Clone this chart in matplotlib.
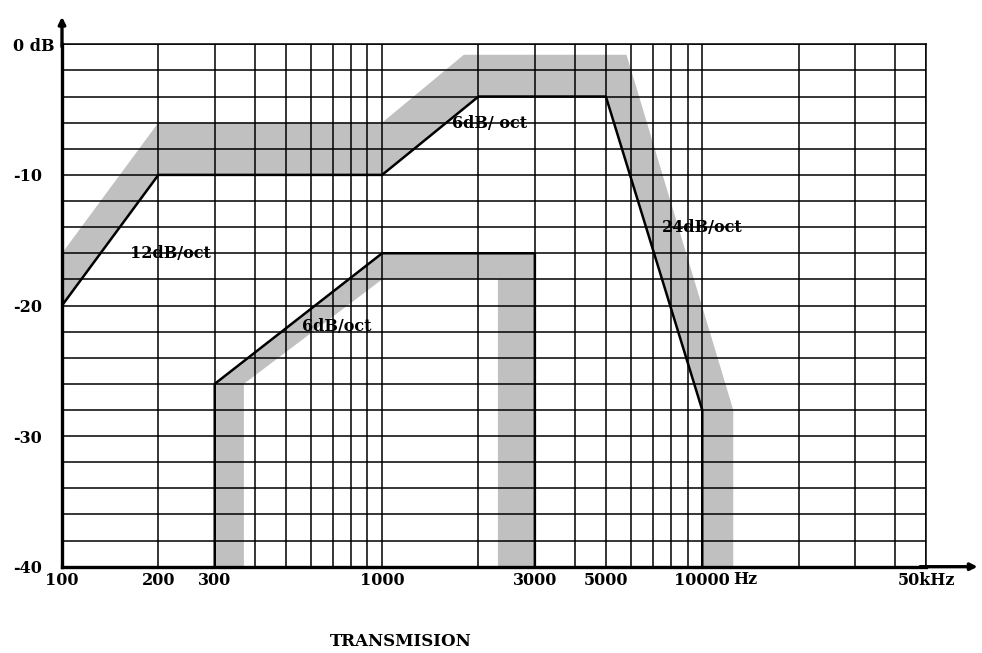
import matplotlib
matplotlib.use("Agg")
import matplotlib.pyplot as plt
import numpy as np

# upper response curve (black line) and its grey tolerance band edge
up_freq = [100, 200, 1000, 2000, 5000, 10000, 10000]
up_db = [-20, -10, -10, -4, -4, -28, -40]
up_band_freq = [12500, 12500, 5800, 1800, 1000, 200, 100]
up_band_db = [-40, -28, -0.8, -0.8, -6, -6, -16]

# lower response curve and its grey band edge
lo_freq = [300, 300, 1000, 3000, 3000]
lo_db = [-40, -26, -16, -16, -40]
lo_band_freq = [2300, 2300, 1000, 370, 370]
lo_band_db = [-40, -18, -18, -26, -40]

xticks = [100, 200, 300, 1000, 3000, 5000, 10000, 50000]
xlabels = ["100", "200", "300", "1000", "3000", "5000", "10000", "50kHz"]
yticks = [0, -10, -20, -30, -40]
ylabels = ["0 dB", "-10", "-20", "-30", "-40"]

notes = [("12dB/oct", 218, -16.0), ("6dB/oct", 724, -21.6),
         ("6dB/ oct", 2171, -6.05), ("24dB/oct", 9970, -14.0)]

font = dict(family="DejaVu Serif", weight="bold", size=11.5)

fig = plt.figure(figsize=(9.82, 6.53), dpi=100)
ax = fig.add_axes([62 / 982, 1 - 566.7 / 653, 864 / 982, 522.4 / 653])
ax.set_xscale("log")
ax.set_xlim(100, 50000)
ax.set_ylim(-40, 0)

grey = "#c0c0c0"
ax.fill(up_freq + up_band_freq, up_db + up_band_db, color=grey, lw=0, zorder=0.2)
ax.fill(lo_freq + lo_band_freq, lo_db + lo_band_db, color=grey, lw=0, zorder=0.2)

ax.plot(up_freq, up_db, color="black", lw=1.8, zorder=3)
ax.plot(lo_freq, lo_db, color="black", lw=1.8, zorder=3)

# grid: every decade step on x, every 2 dB on y
gx = [m * 10 ** e for e in range(2, 5) for m in range(1, 10)] + [50000]
gx = [v for v in gx if 100 < v <= 50000]
ax.set_xticks(gx, minor=True)
ax.set_yticks(np.arange(-40, 1, 2), minor=True)
ax.set_axisbelow(True)
ax.grid(True, which="both", color="black", lw=1.1)

ax.set_xticks(xticks)
ax.set_xticklabels(xlabels, **font)
ax.set_yticks(yticks)
ax.set_yticklabels(ylabels, ha="left", **font)
ax.tick_params(axis="both", which="both", length=0)
ax.tick_params(axis="y", pad=35.5)
ax.tick_params(axis="x", pad=4)
ax.annotate("Hz", xy=(10000, 0), xycoords=("data", "axes fraction"),
            xytext=(22, -9.5), textcoords="offset points", ha="left", va="center", **font)

for s in ["top", "right"]:
    ax.spines[s].set_linewidth(1.1)
for s in ["left", "bottom"]:
    ax.spines[s].set_linewidth(2.4)

# axis arrows
ax.annotate("", xy=(0, 1.058), xytext=(0, 0.99), xycoords="axes fraction",
            arrowprops=dict(arrowstyle="-|>", color="black", lw=2.4, mutation_scale=10),
            annotation_clip=False)
ax.annotate("", xy=(1.063, 0), xytext=(0.99, 0), xycoords="axes fraction",
            arrowprops=dict(arrowstyle="-|>", color="black", lw=2.4, mutation_scale=10),
            annotation_clip=False)

for txt, f, db in notes:
    ax.text(f, db, txt, ha="center", va="center", zorder=4, **font)

fig.text(401 / 982, 1 - 641 / 653, "TRANSMISION", ha="center", va="center",
         family="DejaVu Serif", weight="bold", size=12)

fig.savefig("out.png", dpi=100)
